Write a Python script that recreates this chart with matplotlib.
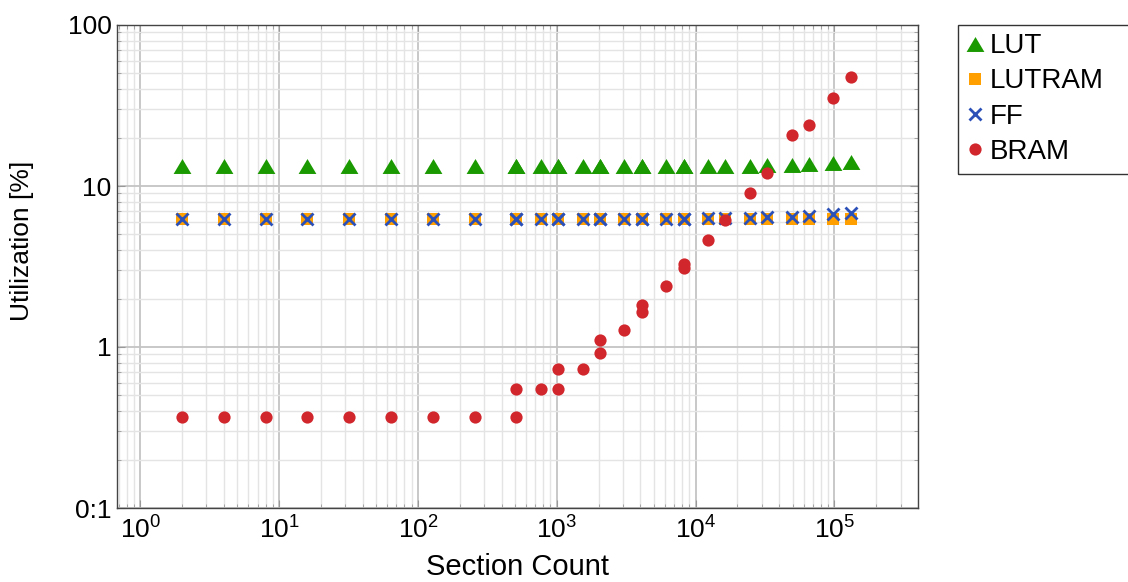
import numpy as np
import matplotlib
matplotlib.use("Agg")
import matplotlib.pyplot as plt
from matplotlib.patches import Rectangle
from matplotlib.ticker import LogLocator, FixedLocator, FixedFormatter, NullFormatter

plt.rcParams['font.family'] = ['Liberation Sans', 'DejaVu Sans']
plt.rcParams['mathtext.fontset'] = 'custom'
plt.rcParams['mathtext.rm'] = 'Liberation Sans'
plt.rcParams['mathtext.it'] = 'Liberation Sans'

# section counts (some counts appear twice, two builds each)
sections = [2, 4, 8, 16, 32, 64, 128, 256, 512, 512, 768, 1024, 1024, 1536,
            2048, 2048, 3072, 4096, 4096, 6144, 8192, 8192, 12288, 16384,
            24576, 32768, 49152, 65536, 98304, 131072]

lut = [13.3, 13.3, 13.3, 13.3, 13.3, 13.3, 13.3, 13.3, 13.3, 13.3, 13.3, 13.3, 13.3, 13.3,
       13.3, 13.3, 13.3, 13.3, 13.3, 13.3, 13.3, 13.3, 13.4, 13.4,
       13.4, 13.5, 13.6, 13.7, 13.9, 14.1]
lutram = [6.2] * 30
ff = [6.25, 6.25, 6.25, 6.25, 6.25, 6.25, 6.25, 6.25, 6.25, 6.25, 6.25, 6.25, 6.25, 6.25,
      6.25, 6.25, 6.25, 6.25, 6.25, 6.25, 6.25, 6.25, 6.3, 6.35,
      6.35, 6.4, 6.45, 6.5, 6.7, 6.8]
bram = [0.37, 0.37, 0.37, 0.37, 0.37, 0.37, 0.37, 0.37, 0.37, 0.55, 0.55, 0.55, 0.73, 0.73,
        0.92, 1.10, 1.28, 1.65, 1.83, 2.40, 3.1, 3.3, 4.6, 6.15,
        9.0, 12.0, 20.7, 23.8, 35.4, 47.3]

fig = plt.figure(figsize=(11.28, 5.82), dpi=100)
ax = fig.add_axes([117/1128, 1 - 508/582, (918-117)/1128, (508-25)/582])

tri = [(-1, -0.84), (1, -0.84), (0, 0.84)]
ax.plot(sections, lut, linestyle='none', marker=tri, markersize=12.8,
        color='#1a9900', markeredgewidth=0, label='LUT')
ax.plot(sections, lutram, linestyle='none', marker='s', markersize=8.4,
        color='#ffa000', markeredgewidth=0, label='LUTRAM')
ax.plot(sections, ff, linestyle='none', marker='x', markersize=8.6,
        color='#2b50b8', markeredgewidth=2.0, label='FF')
ax.plot(sections, bram, linestyle='none', marker='o', markersize=8.8,
        color='#d0262c', markeredgewidth=0, label='BRAM')

ax.set_xscale('log')
ax.set_yscale('log')
ax.set_xlim(0.68, 4.0e5)
ax.set_ylim(0.1, 100)

ax.xaxis.set_major_locator(LogLocator(base=10, numticks=10))
ax.xaxis.set_minor_locator(LogLocator(base=10, subs=np.arange(2, 10), numticks=20))
ax.xaxis.set_minor_formatter(NullFormatter())
ax.yaxis.set_major_locator(FixedLocator([0.1, 1, 10, 100]))
ax.yaxis.set_major_formatter(FixedFormatter(['0:1', '1', '10', '100']))
ax.yaxis.set_minor_locator(LogLocator(base=10, subs=np.arange(2, 10), numticks=20))
ax.yaxis.set_minor_formatter(NullFormatter())

ax.grid(which='major', color='#c4c4c4', linewidth=1.3)
ax.grid(which='minor', color='#e4e4e4', linewidth=1.0)
ax.set_axisbelow(True)

ax.tick_params(which='both', direction='in', top=True, right=True, color='#999999')
ax.tick_params(which='major', length=6, labelsize=19)
ax.tick_params(axis='y', which='major', pad=4)
ax.tick_params(axis='x', which='major', pad=6)
ax.tick_params(which='minor', length=3)
for s in ax.spines.values():
    s.set_color('#444444')
    s.set_linewidth(1.0)

ax.set_xlabel('Section Count', fontsize=21)
ax.xaxis.set_label_coords(0.5, -0.094)
ax.set_ylabel('Utilization [%]', fontsize=19)
ax.yaxis.set_label_coords(-0.103, 0.553)

# legend box runs off the right edge of the figure, as in the original
leg = ax.legend(loc='upper left', bbox_to_anchor=(1.05, 1.003), fontsize=20,
                frameon=False, handlelength=0.55, handletextpad=0.25,
                borderpad=0.35, labelspacing=0.33, borderaxespad=0)
fig.patches.append(Rectangle((958/1128, 1 - 174/582), 200/1128, 149/582,
                             transform=fig.transFigure, fill=False,
                             edgecolor='#333333', linewidth=1.0, clip_on=False))

fig.savefig('out.png', dpi=100)
